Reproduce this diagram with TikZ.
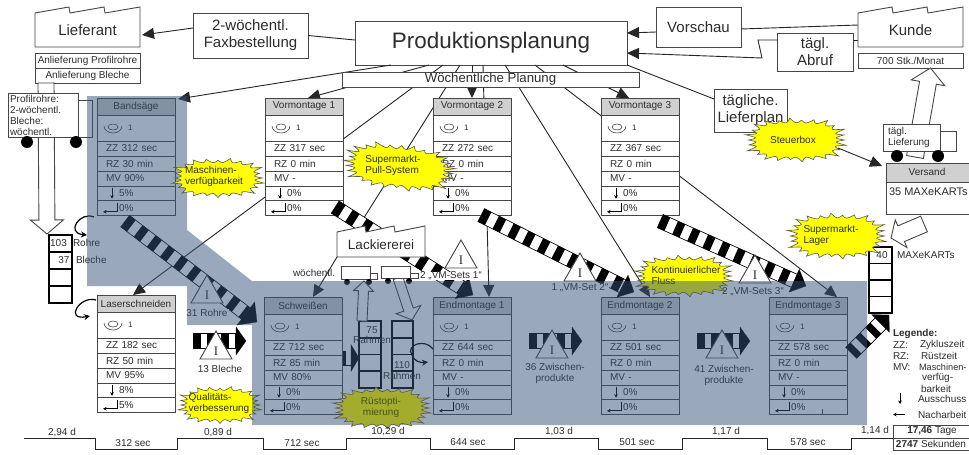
\documentclass[tikz,border=0pt]{standalone}
\usepackage{fontspec}
\setmainfont{Liberation Sans}
\newfontfamily\invserif{Liberation Serif}
\usetikzlibrary{arrows.meta,calc}
\definecolor{zoneblue}{RGB}{53,83,121}
\definecolor{headgrey}{RGB}{208,208,208}
\definecolor{ink}{RGB}{45,45,45}
\definecolor{edge}{RGB}{70,70,70}
\definecolor{burstyellow}{RGB}{255,255,0}
\definecolor{olivefill}{RGB}{163,172,45}
\definecolor{olivetext}{RGB}{70,85,30}
\tikzset{
  base/.style={text=ink,font=\fontsize{10pt}{11pt}\selectfont,inner sep=0pt,outer sep=0pt},
  f15/.style={font=\fontsize{15pt}{17pt}\selectfont},
  boxed/.style={base,draw=edge,fill=white,line width=.9pt,align=center},
  procouter/.style={base,anchor=north west,minimum width=78pt,minimum height=117pt},
  prochead/.style={boxed,fill=headgrey,anchor=north west,minimum width=78pt,minimum height=17pt},
  procrow/.style={boxed,anchor=north west,minimum width=78pt,text width=60pt,inner xsep=9pt,align=left},
  conn/.style={draw=black!85,line width=.9pt},
  arr/.style={conn,-{Triangle[length=12pt,width=11pt]}},
  tiny arrow/.style={draw=black,line width=.7pt,-{Stealth[length=3.5pt,width=3.5pt]}},
  hollow/.style={draw=edge,fill=white,line width=.9pt},
  loop arrow/.style={draw=black,line width=1.2pt,-{Stealth[length=6pt,width=6pt]}},
  kanbancell/.style={base,draw=black,line width=1.6pt,anchor=north west},
  wheel/.style={circle,fill=black,inner sep=0pt,outer sep=0pt},
  burstline/.style={draw=black!65,line width=.6pt},
  stocklabel/.style={base,fill=white,inner xsep=1pt}
}
\newcommand{\procbox}[9]{%
  \node[procouter] (#1) at (#2,#3) {};
  \node[prochead] (#1-h) at (#2,#3) {#4};
  \node[procrow,minimum height=26pt] (#1-i) at (#2,{#3+17}) {\hspace{22pt}{\fontsize{8pt}{9pt}\selectfont 1}};
  \node[procrow,minimum height=15pt] (#1-z) at (#2,{#3+43}) {#5};
  \node[procrow,minimum height=15pt] (#1-r) at (#2,{#3+58}) {#6};
  \node[procrow,minimum height=15pt] (#1-m) at (#2,{#3+73}) {#7};
  \node[procrow,minimum height=14.5pt] (#1-a) at (#2,{#3+88}) {\hspace{13pt}#8};
  \node[procrow,minimum height=14.5pt] (#1-n) at (#2,{#3+102.5}) {\hspace{13pt}#9};
  \draw[draw=edge,line width=.6pt] ([xshift=16pt,yshift=1pt]#1-i.west) ellipse (5pt and 3pt);
  \draw[draw=edge,line width=.6pt] ([xshift=7pt,yshift=2pt]#1-i.west) arc[start angle=180,end angle=360,x radius=9pt,y radius=7pt];
  \draw[tiny arrow] ([xshift=15pt,yshift=5pt]#1-a.west) -- ([xshift=15pt,yshift=-5.5pt]#1-a.west);
  \draw[tiny arrow] ([xshift=20pt,yshift=5pt]#1-n.west) -- ([xshift=20pt,yshift=-4pt]#1-n.west) -- ([xshift=6pt,yshift=-4pt]#1-n.west);
}
\newcommand{\sawroof}[1]{%
  \draw[hollow] (#1.south west) -- (#1.north west)
    -- ++(34pt,6pt) -- ++(1pt,-6pt) -- ++(34pt,6pt) -- ++(1pt,-6pt) -- ++(35pt,6pt)
    -- (#1.south east) -- cycle;
}
\newcommand{\truckbox}[7]{% name x y w h cabw text
  \node[boxed,anchor=north west,minimum width=#4pt,minimum height=#5pt,text width=#4pt-4pt,align=left,inner xsep=2pt] (#1) at (#2,#3) {#7};
  \node[boxed,anchor=south west,minimum width=#6pt,minimum height={#5pt-7pt}] (#1-c) at (#1.south east) {};
}
\newcommand{\kanbanstack}[5]{% name x y w h
  \node[kanbancell,minimum width=#4pt,minimum height=#5pt] (#1-1) at (#2,#3) {};
  \node[kanbancell,minimum width=#4pt,minimum height=#5pt] (#1-2) at (#2,{#3+#5}) {};
  \node[kanbancell,minimum width=#4pt,minimum height=#5pt] (#1-3) at (#2,{#3+2*#5}) {};
  \node[kanbancell,minimum width=#4pt,minimum height=#5pt] (#1-4) at (#2,{#3+3*#5}) {};
}
% name, start, tip, shaft width, head length, head width, dash on, dash off
\newcommand{\stripearrow}[8]{%
  \coordinate (#1-b) at ($(#3)!#5pt!(#2)$);
  \draw[black,line width=#4pt] (#2) -- (#1-b);
  \draw[white,line width=#4pt-1.6pt] (#2) -- (#1-b);
  \draw[black,line width=#4pt-.6pt,dash pattern=on #7pt off #8pt] (#2) -- (#1-b);
  \draw[draw=black,fill=black,line width=.2pt] ($(#1-b)!#6pt/2!90:(#3)$) -- (#3) -- ($(#1-b)!#6pt/2!-90:(#3)$) -- cycle;
}
% name, apex x, apex y
\newcommand{\invtriangle}[3]{%
  \draw[hollow] (#2,#3) -- ({#2+16},{#3+28}) -- ({#2-16},{#3+28}) -- cycle;
  \node[base,font=\invserif\fontsize{13pt}{13pt}\selectfont] (#1) at (#2,{#3+20.5}) {I};
}
% tail, tip, half width, wing half width, neck length
\newcommand{\hollowarrow}[5]{%
  \coordinate (ha-n) at ($(#2)!#5pt!(#1)$);
  \filldraw[hollow] ($(#1)!#3pt!90:(#2)$) -- ($(ha-n)!#3pt!90:(#2)$) -- ($(ha-n)!#4pt!90:(#2)$) -- (#2)
    -- ($(ha-n)!#4pt!-90:(#2)$) -- ($(ha-n)!#3pt!-90:(#2)$) -- ($(#1)!#3pt!-90:(#2)$) -- cycle;
}
% name cx cy rx ry spikes fill rotation
\newcommand{\burstshape}[8]{%
  \begin{scope}[rotate around={#8:(#2,#3)}]
  \pgfmathtruncatemacro\burstlast{#6-1}
  \foreach \bi in {0,...,#6}{
    \pgfmathsetmacro\bang{\bi*360/#6}
    \pgfmathsetmacro\bc{abs(cos(\bang))}
    \pgfmathsetmacro\bs{abs(sin(\bang))}
    \pgfmathsetmacro\bjit{1.03+0.06*sin(mod(\bi,#6)*137)}
    \pgfmathsetmacro\brad{\bjit/((\bc*\bc*\bc+\bs*\bs*\bs)^(0.3333))}
    \coordinate (#1-t\bi) at ({#2+#4*\brad*cos(\bang)},{#3+#5*\brad*sin(\bang)});
    \pgfmathsetmacro\bmid{\bang+180/#6}
    \pgfmathsetmacro\bc{abs(cos(\bmid))}
    \pgfmathsetmacro\bs{abs(sin(\bmid))}
    \pgfmathsetmacro\brad{0.8/((\bc*\bc*\bc+\bs*\bs*\bs)^(0.3333))}
    \coordinate (#1-v\bi) at ({#2+#4*\brad*cos(\bmid)},{#3+#5*\brad*sin(\bmid)});
  }
  \filldraw[burstline,fill=#7] (#1-t0) \foreach \bk [evaluate=\bk as \bl using int(\bk+1)] in {0,...,\burstlast}{ .. controls (#1-v\bk) .. (#1-t\bl) } -- cycle;
  \end{scope}
}
\begin{document}
\begin{tikzpicture}[x=1pt,y=-1pt]
\useasboundingbox (0,0) rectangle (969,455);
\fill[white] (0,0) rectangle (969,455);
\clip (0,0) rectangle (969,455);

% ---- top row of nodes
\node[boxed,f15,minimum width=272pt,minimum height=44pt,font=\fontsize{22.4pt}{26pt}\selectfont] (prod) at (491,43) {Produktionsplanung};
\node[base,f15,minimum width=105pt,minimum height=34pt] (lief) at (87.5,30) {};
\node[base,f15,minimum width=105pt,minimum height=34pt] (kunde) at (910.5,30) {};
\node[base,minimum width=88pt,minimum height=25pt] (lack) at (381,244.5) {};

\node[boxed,f15,minimum width=115pt,minimum height=45pt] (fax) at (250.5,35.5) {2-wöchentl.\\Faxbestellung};
\node[boxed,f15,minimum width=85pt,minimum height=40pt] (vor) at (698.5,27) {Vorschau};
\node[boxed,f15,minimum width=76pt,minimum height=38pt] (abruf) at (815,52) {tägl.\\Abruf};
\node[boxed,f15,minimum width=73pt,minimum height=43pt] (lplan) at (750.5,110.5) {tägliche.\\Lieferplan};

% ---- frames for anchors
\node[procouter] (bs) at (97,98) {};
\node[procouter] (vm1) at (265,98) {};
\node[procouter] (vm2) at (433,98) {};
\node[procouter] (vm3) at (601,98) {};
\node[procouter] (ls) at (97,295) {};
\node[procouter] (sw) at (264,297) {};
\node[procouter] (em1) at (433,297) {};
\node[procouter] (em2) at (601,297) {};
\node[procouter] (em3) at (769,297) {};

% ---- connectors from the planning box
\draw[arr] (fax.west |- 0,28) -- ([yshift=-5pt]lief.east -| 142,0);
\draw[conn] ([yshift=3pt]prod.west) -- ([yshift=0pt]fax.east);
\draw[conn] ([yshift=5pt]kunde.west) -- ([yshift=-2pt]vor.east);
\draw[arr] ([yshift=-5pt]vor.west) -- ([yshift=10pt]prod.east);
\draw[conn] ([yshift=-10pt]kunde.west) -- ([yshift=12pt]abruf.east);
\draw[arr] ([yshift=12pt]abruf.west) -- ++(-19,0) -- ++(4,18) -- ([yshift=-10pt]prod.east);
\draw[conn] (prod.south east) -- ([yshift=11.5pt]lplan.west);

\draw[arr] ([xshift=-100pt]prod.south) -- ([xshift=3pt,yshift=-1pt]bs.north east);
\draw[arr] ([xshift=-62pt]prod.south) -- ([xshift=4pt]vm1.north);
\draw[arr] ([xshift=-48pt]prod.south) -- ([xshift=-3pt]ls.north);
\draw[conn] ([xshift=-31pt]prod.south) -- ([xshift=-26pt]lack.north);
\draw[arr] ([xshift=-19pt]prod.south) -- (vm2.north);
\draw[arr] ([xshift=-8pt]prod.south) -- ([xshift=17pt]em1.north);
\draw[arr] ([xshift=14pt]prod.south) -- ([xshift=10pt]em2.north);
\draw[arr] ([xshift=44pt]prod.south) -- ([xshift=-10pt]em3.north east);
\draw[arr] ([xshift=72pt]prod.south) -- ([xshift=-11pt]vm3.north);

\node[boxed,minimum width=297pt,minimum height=15pt,font=\fontsize{13.2pt}{15pt}\selectfont] (plan) at (490.5,79.5) {Wöchentliche Planung};

% ---- factories and their data boxes
\sawroof{lief}
\node[base,f15] (lieft) at (lief.center) {Lieferant};
\sawroof{kunde}
\node[base,f15] (kundet) at (kunde.center) {Kunde};
\node[boxed,minimum width=105pt,minimum height=15pt] (anl1) at (87.5,60.5) {Anlieferung Profilrohre};
\node[boxed,minimum width=105pt,minimum height=15pt] (anl2) at (87.5,75.5) {Anlieferung Bleche};
\node[boxed,minimum width=105pt,minimum height=15pt] (stk) at (910.5,60.5) {700 Stk./Monat};

% ---- left supply
\coordinate (h1a) at ([xshift=-41.5pt]anl2.south);
\coordinate (h1b) at (47,234);
\hollowarrow{h1a}{h1b}{8}{16.5}{14}
\truckbox{tl}{8}{93}{70}{44}{14}{Profilrohre:\\2-wöchentl.\\Bleche:\\wöchentl.}
\node[wheel,minimum size=12pt] (tl-w1) at (27,142) {};
\node[wheel,minimum size=12pt] (tl-w2) at (76,142) {};

% ---- process boxes
\procbox{bs}{97}{98}{Bandsäge}{ZZ 312 sec}{RZ 30 min}{MV 90\%}{5\%}{0\%}
\procbox{vm1}{265}{98}{Vormontage 1}{ZZ 317 sec}{RZ 0 min}{MV -}{0\%}{0\%}
\procbox{vm2}{433}{98}{Vormontage 2}{ZZ 272 sec}{RZ 0 min}{MV -}{0\%}{0\%}
\procbox{vm3}{601}{98}{Vormontage 3}{ZZ 367 sec}{RZ 0 min}{MV -}{0\%}{0\%}
\procbox{ls}{97}{295}{Laserschneiden}{ZZ 182 sec}{RZ 50 min}{MV 95\%}{8\%}{5\%}
\procbox{sw}{264}{297}{Schweißen}{ZZ 712 sec}{RZ 85 min}{MV 80\%}{0\%}{0\%}
\procbox{em1}{433}{297}{Endmontage 1}{ZZ 644 sec}{RZ 0 min}{MV -}{0\%}{0\%}
\procbox{em2}{601}{297}{Endmontage 2}{ZZ 501 sec}{RZ 0 min}{MV -}{0\%}{0\%}
\procbox{em3}{769}{297}{Endmontage 3}{ZZ 578 sec}{RZ 0 min}{MV -}{0\%}{0\%}
\draw[draw=edge,line width=.7pt] ([xshift=53pt,yshift=-2pt]em3-n.west) -- ([xshift=53pt]em3-n.south west);

% ---- striped push arrows
\coordinate (s1a) at (125,221);  \coordinate (s1c) at (257,322);
\stripearrow{s1}{s1a}{s1c}{15}{14}{29}{8}{8.5}
\coordinate (s2a) at (335,207);  \coordinate (s2c) at (473,295);
\stripearrow{s2}{s2a}{s2c}{15}{13}{25}{8}{8.5}
\coordinate (s3a) at (481,215);  \coordinate (s3c) at (634,292);
\stripearrow{s3}{s3a}{s3c}{15}{13}{25}{8}{8.5}
\coordinate (s4a) at (660,221);  \coordinate (s4c) at (806,286);
\stripearrow{s4}{s4a}{s4c}{15}{13}{25}{8}{8.5}
\coordinate (s5a) at (851,353);  \coordinate (s5c) at (889,315);
\stripearrow{s5}{s5a}{s5c}{16}{12}{25}{7}{7}
\coordinate (p1a) at (193,341);  \coordinate (p1c) at (246,341);
\stripearrow{p1}{p1a}{p1c}{16}{10}{28}{8}{6}
\coordinate (p2a) at (529,341);  \coordinate (p2c) at (582,341);
\stripearrow{p2}{p2a}{p2c}{16}{10}{28}{8}{6}
\coordinate (p3a) at (697,341);  \coordinate (p3c) at (750,341);
\stripearrow{p3}{p3a}{p3c}{16}{10}{28}{8}{6}
\coordinate (p4a) at (343,358);  \coordinate (p4c) at (359,358);
\stripearrow{p4}{p4a}{p4c}{15}{8}{27}{3}{5}

% ---- inventory triangles
\invtriangle{t1}{207}{275}
\node[stocklabel] (t1l) at (207,313) {31 Rohre};
\invtriangle{t2}{461}{240}
\node[stocklabel] (t2l) at (451,276) {2 „VM-Sets 1“};
\invtriangle{t3}{580}{253}
\node[stocklabel] (t3l) at (580,288) {1 „VM-Set 2“};
\invtriangle{t4}{755}{255}
\node[stocklabel] (t4l) at (753,292) {2 „VM-Sets 3“};
\invtriangle{t5}{216}{331}
\node[base] (t5l) at (220,369) {13 Bleche};
\invtriangle{t6}{552}{330}
\node[base,align=center] (t6l) at (555,373.5) {36 Zwischen-\\produkte};
\invtriangle{t7}{722}{330}
\node[base,align=center] (t7l) at (724,375) {41 Zwischen-\\produkte};

% ---- Lackiererei
\draw[hollow] (lack.south west) -- (337,232) -- (365,226) -- (366,232) -- (394,226) -- (395,232) -- (425,226) -- (lack.south east) -- cycle;
\node[base,font=\fontsize{13.5pt}{15pt}\selectfont] (lackt) at (lack.center) {Lackiererei};
\node[base,anchor=west] (woe) at (293,273) {wöchentl.};
\draw[arr] (lack.south west) -- ([xshift=10pt]sw.north);

% ---- kanban stacks
\kanbanstack{kl}{49}{235}{23}{17}
\node[base] (kl103) at (58.5,243) {103};
\node[base,anchor=west] (klr) at (73,243) {Rohre};
\node[base] (kl37) at (64,260) {37};
\node[base,anchor=west] (klb) at (76,260) {Bleche};
\kanbanstack{ka}{359}{321}{22}{16.75}
\node[base] (ka75) at (372,330) {75};
\node[base] (kar) at (372,340) {Rahmen};
\kanbanstack{kb}{392}{321}{21}{16.75}
\node[base] (kb110) at (402,365) {110};
\node[base] (kbr) at (402,376) {Rahmen};
\kanbanstack{kr}{869}{247}{23}{16.5}
\node[base] (kr40) at (882,255) {40};
\node[base,anchor=west] (krm) at (897,255) {MAXeKARTs};

% ---- trucks at the paint shop
\coordinate (h4a) at (362,321);
\coordinate (h4b) at (364,281);
\hollowarrow{h4a}{h4b}{5}{10}{10}
\coordinate (h5a) at (398,278);
\coordinate (h5b) at (412,320);
\hollowarrow{h5a}{h5b}{5}{13}{11}
\truckbox{t1k}{341}{266}{29}{13}{7}{}
\node[wheel,minimum size=6pt] (t1k-w1) at (347,282) {};
\node[wheel,minimum size=6pt] (t1k-w2) at (369,282) {};
\truckbox{t2k}{381}{266}{29}{12}{8}{}
\node[wheel,minimum size=6pt] (t2k-w1) at (388,281) {};
\node[wheel,minimum size=6pt] (t2k-w2) at (409,281) {};

% ---- loop arrows
\draw[loop arrow] (94,217) .. controls (80,211) and (65,233) .. (87,235);
\draw[loop arrow] (96,300) .. controls (80,295) and (64,321) .. (90,316);
\draw[loop arrow] (433,349) .. controls (425,338) and (405,345) .. (412,355) .. controls (414,361) and (420,363) .. (428,362);

% ---- bursts beneath the shading
\burstshape{bk}{684}{276}{46}{19}{26}{burstyellow}{0}
\node[base,align=left] (bkt) at (686,275) {Kontinuierlicher\\Fluss};
\burstshape{bq}{220}{405}{39}{17}{24}{burstyellow}{0}
\node[base,align=left] (bqt) at (219,403) {Qualitäts-\\verbesserung};

% ---- shaded zone
\fill[zoneblue,opacity=.5] (87,96) -- (187,96) -- (187,230) -- (252,281) -- (867,281) -- (867,425) -- (252,425) -- (252,325) -- (187,325) -- (187,286) -- (87,286) -- cycle;

% ---- right side: delivery
\coordinate (h2a) at (915,157);
\coordinate (h2b) at ([xshift=20pt]stk.south);
\hollowarrow{h2a}{h2b}{8.5}{17}{15}
\truckbox{tr}{883}{124}{57}{27}{16}{\fontsize{10pt}{8pt}\selectfont\hspace*{3pt}tägl.\\\hspace*{3pt}Lieferung}
\node[wheel,minimum size=12pt] (tr-w1) at (897,156) {};
\node[wheel,minimum size=12pt] (tr-w2) at (938,156) {};
\node[boxed,anchor=north west,minimum width=100pt,minimum height=19pt,fill=headgrey] (vs) at (886,163) {};
\node[boxed,anchor=north west,minimum width=100pt,minimum height=32pt] (vsb) at (886,182) {};
\node[base] (vst) at (927,172) {Versand};
\node[base,anchor=west,font=\fontsize{11pt}{12pt}\selectfont] (vsn) at (889,192) {35 MAXeKARTs};
\coordinate (h3a) at ([xshift=-12pt,yshift=-10pt]vsb.south);
\coordinate (h3b) at ([xshift=22pt,yshift=9pt]kr-1.north west);
\hollowarrow{h3a}{h3b}{8.5}{15}{11}

% ---- bursts on top
\burstshape{bm}{218}{178}{43}{18}{24}{burstyellow}{0}
\node[base,align=left] (bmt) at (214,176.5) {Maschinen-\\verfügbarkeit};
\burstshape{bp}{399}{167}{52}{21}{28}{burstyellow}{-7}
\node[base,align=left] (bpt) at (393,165) {Supermarkt-\\Pull-System};
\burstshape{bst}{796}{140}{47}{20}{26}{burstyellow}{0}
\node[base] (bstt) at (793,140) {Steuerbox};
\burstshape{bsl}{837}{236}{46}{21}{26}{burstyellow}{0}
\node[base,align=left] (bslt) at (831,235) {Supermarkt-\\Lager};
\burstshape{br}{382}{408}{46}{19}{26}{olivefill}{0}
\node[base,align=center,text=olivetext] (brt) at (381,407) {Rüstopti-\\mierung};
\draw[arr] ([xshift=45pt,yshift=-8pt]bstt.center) -- ([xshift=-4pt,yshift=-3pt]vs.north west);

% ---- time line
\node[boxed,anchor=north west,minimum width=78pt,minimum height=13pt] (tage) at (893,425) {\textbf{17,46} Tage};
\node[boxed,anchor=north west,minimum width=78pt,minimum height=12pt] (sek) at (893,438) {\hspace{-2pt}\textbf{2747} Sekunden};
\coordinate (tl0) at (24,438);
\draw[conn] (tl0) -- (95,438) -- (95,449) -- (177,449) -- (177,438) -- (263,438) -- (263,449) -- (346,449) -- (346,438) -- (430,438) -- (430,449) -- (514,449) -- (514,438) -- (598,438) -- (598,449) -- (682,449) -- (682,438) -- (767,438) -- (767,449) -- (851,449) -- (851,438) -- (tage.south west);
\node[base] (d1) at (62,432.5) {2,94 d};
\node[base] (s1) at (133,443.5) {312 sec};
\node[base] (d2) at (218,432.5) {0,89 d};
\node[base] (s2) at (302,443.5) {712 sec};
\node[base] (d3) at (388,432) {10,29 d};
\node[base] (s3) at (468,442.5) {644 sec};
\node[base] (d4) at (559,432) {1,03 d};
\node[base] (s4) at (637,442.5) {501 sec};
\node[base] (d5) at (726,432) {1,17 d};
\node[base] (s5) at (808,442.5) {578 sec};
\node[base] (d6) at (875,431) {1,14 d};

% ---- legend
\node[base,anchor=west] (lg0) at (893,334) {\textbf{Legende:}};
\node[base,anchor=west] (lg1a) at (893,345) {ZZ:};
\node[base,anchor=west] (lg1b) at (920,345) {Zykluszeit};
\node[base,anchor=west] (lg2a) at (893,356) {RZ:};
\node[base,anchor=west] (lg2b) at (921,356) {Rüstzeit};
\node[base,anchor=west] (lg3a) at (893,367) {MV:};
\node[base,anchor=west,font=\fontsize{9.2pt}{11pt}\selectfont] (lg3b) at (919,367) {Maschinen-};
\node[base,anchor=west] (lg4) at (922,378) {verfüg-};
\node[base,anchor=west] (lg5) at (921,388.5) {barkeit};
\node[base,anchor=west] (lg6) at (918,399) {Ausschuss};
\node[base,anchor=west] (lg7) at (918,414.5) {Nacharbeit};
\draw[tiny arrow,line width=.9pt] ([xshift=-18pt,yshift=6pt]lg6.west) -- ([xshift=-18pt,yshift=-5pt]lg6.west);
\draw[tiny arrow,line width=.9pt] ([xshift=-13pt]lg7.west) -- ([xshift=-25pt]lg7.west);
\end{tikzpicture}
\end{document}
